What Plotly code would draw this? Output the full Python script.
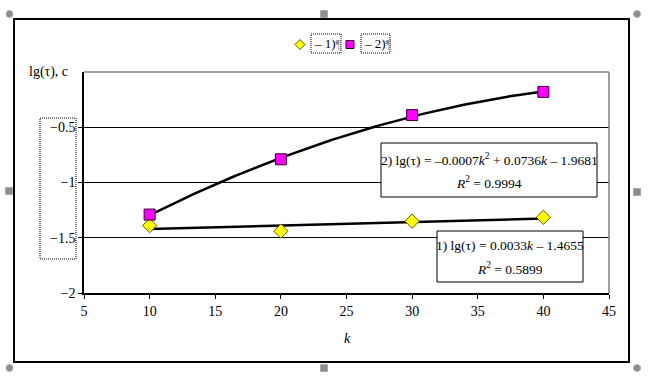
import numpy as np
import plotly.graph_objects as go

# ---- data ----
k_values = [10, 20, 30, 40]
series1 = [-1.39, -1.44, -1.35, -1.315]
series2 = [-1.29, -0.79, -0.39, -0.18]
x_ticks = [5, 10, 15, 20, 25, 30, 35, 40, 45]
y_ticks = [-2, -1.5, -1, -0.5]
y_tick_text = ["\u22122", "\u22121.5", "\u22121", "\u22120.5"]
legend_names = ["\u2013 1)", "\u2013 2)"]
eq1 = ["1) lg(\u03c4) = 0.0033<i>k</i> \u2013 1.4655", "<i>R</i><sup>2</sup> = 0.5899"]
eq2 = ["2) lg(\u03c4) = \u20130.0007<i>k</i><sup>2</sup> + 0.0736<i>k</i> \u2013 1.9681", "<i>R</i><sup>2</sup> = 0.9994"]

W, H = 648, 381
L, R, T, B = 84, 609, 72, 293
def px(x):
    return (x - L) / (R - L)
def py(y):
    return (B - y) / (B - T)

FONT = "Liberation Serif"
DOT = "1px,1px"

fig = go.Figure()

# trend lines (fitted from the data)
kk = np.linspace(min(k_values), max(k_values), 100)
c1 = np.polyfit(k_values, series1, 1)
c2 = np.polyfit(k_values, series2, 2)
fig.add_trace(go.Scatter(x=kk, y=np.polyval(c1, kk), mode="lines",
                         line=dict(color="black", width=2.5), showlegend=False, hoverinfo="skip"))
fig.add_trace(go.Scatter(x=kk, y=np.polyval(c2, kk), mode="lines",
                         line=dict(color="black", width=2.5), showlegend=False, hoverinfo="skip"))

fig.add_trace(go.Scatter(x=k_values, y=series1, mode="markers", name=legend_names[0],
                         marker=dict(symbol="diamond", size=11, color="#FFFF00",
                                     line=dict(color="#5a5a00", width=1)), showlegend=False))
fig.add_trace(go.Scatter(x=k_values, y=series2, mode="markers", name=legend_names[1],
                         marker=dict(symbol="square", size=11, color="#FF00FF",
                                     line=dict(color="#300030", width=1)), showlegend=False))

shapes = []
# outer chart border
shapes.append(dict(type="rect", xref="paper", yref="paper", x0=px(14), x1=px(629), y0=py(362), y1=py(19),
                   line=dict(color="black", width=2), layer="below"))
# plot area top and right (gray)
shapes.append(dict(type="line", xref="paper", yref="paper", x0=0, x1=1, y0=1, y1=1,
                   line=dict(color="#808080", width=1.5)))
shapes.append(dict(type="line", xref="paper", yref="paper", x0=1, x1=1, y0=0, y1=1,
                   line=dict(color="#808080", width=1.5)))
# equation boxes
for (x0, y0, x1, y1) in [(381, 143, 597, 197), (437, 231, 583, 282)]:
    shapes.append(dict(type="rect", xref="paper", yref="paper", x0=px(x0), x1=px(x1), y0=py(y1), y1=py(y0),
                       fillcolor="white", line=dict(color="black", width=1)))
# dotted box around y tick labels
shapes.append(dict(type="rect", xref="paper", yref="paper", x0=px(40), x1=px(76), y0=py(259), y1=py(118),
                   line=dict(color="black", width=1, dash=DOT)))
# legend symbols
cx, cy, r = 300, 44.5, 5
shapes.append(dict(type="path", xref="paper", yref="paper",
                   path=f"M {px(cx)} {py(cy-r)} L {px(cx+r)} {py(cy)} L {px(cx)} {py(cy+r)} L {px(cx-r)} {py(cy)} Z",
                   fillcolor="#FFFF00", line=dict(color="#5a5a00", width=1)))
shapes.append(dict(type="rect", xref="paper", yref="paper", x0=px(346), x1=px(354), y0=py(48.5), y1=py(40.5),
                   fillcolor="#FF00FF", line=dict(color="#300030", width=1)))
# legend dotted boxes
for x0, x1 in [(311, 341), (361, 390)]:
    shapes.append(dict(type="rect", xref="paper", yref="paper", x0=px(x0), x1=px(x1), y0=py(53), y1=py(34),
                       line=dict(color="black", width=1, dash=DOT)))
# selection handles
for (hx, hy) in [(9.5, 14), (637, 14), (9.5, 368), (637, 368)]:
    shapes.append(dict(type="circle", xref="paper", yref="paper", x0=px(hx-3.5), x1=px(hx+3.5),
                       y0=py(hy+3.5), y1=py(hy-3.5), fillcolor="#8c8c8c", line=dict(color="#b0b0b0", width=1)))
for (hx, hy) in [(324, 14), (9, 191), (637, 192), (324, 368)]:
    shapes.append(dict(type="rect", xref="paper", yref="paper", x0=px(hx-3.5), x1=px(hx+3.5),
                       y0=py(hy+3.5), y1=py(hy-3.5), fillcolor="#8c8c8c", line=dict(color="#a8a8a8", width=1)))

annotations = []
# legend text
for name, xc in zip(legend_names, [312, 362]):
    annotations.append(dict(xref="paper", yref="paper", x=px(xc), y=py(43.5), xanchor="left", yanchor="middle",
                            text=name + "<span style='color:#8a8a8a'>\u00b6</span>", showarrow=False,
                            font=dict(family=FONT, size=13, color="black")))
# y axis title
annotations.append(dict(xref="paper", yref="paper", x=px(27), y=py(72), xanchor="left", yanchor="middle",
                        text="lg(\u03c4), c", showarrow=False, bgcolor="white",
                        font=dict(family=FONT, size=14, color="black")))
# x axis title
annotations.append(dict(xref="paper", yref="paper", x=px(347), y=py(338), xanchor="center", yanchor="middle",
                        text="<i>k</i>", showarrow=False, font=dict(family=FONT, size=14, color="black")))
# equation texts
for line, (xc, yc) in zip(eq2, [(489, 159), (489, 182)]):
    annotations.append(dict(xref="paper", yref="paper", x=px(xc), y=py(yc), xanchor="center", yanchor="middle",
                            text=line, showarrow=False, font=dict(family=FONT, size=13.5, color="black")))
for line, (xc, yc) in zip(eq1, [(510, 245), (510, 268)]):
    annotations.append(dict(xref="paper", yref="paper", x=px(xc), y=py(yc), xanchor="center", yanchor="middle",
                            text=line, showarrow=False, font=dict(family=FONT, size=13.5, color="black")))

fig.update_layout(
    width=W, height=H,
    margin=dict(l=L, r=W - R, t=T, b=H - B, pad=0),
    paper_bgcolor="white", plot_bgcolor="white",
    showlegend=False,
    font=dict(family=FONT, size=14, color="black"),
    xaxis=dict(range=[5, 45], tickvals=x_ticks, showgrid=False, zeroline=False,
               showline=True, linecolor="black", linewidth=1.5,
               ticks="outside", ticklen=4, tickcolor="black", tickwidth=1,
               tickfont=dict(family=FONT, size=14, color="black")),
    yaxis=dict(range=[-2, 0], tickvals=y_ticks, ticktext=y_tick_text, showgrid=True, gridcolor="black",
               gridwidth=1, zeroline=False, showline=True, linecolor="black", linewidth=1.5,
               ticks="outside", ticklen=4, tickcolor="black", tickwidth=1,
               tickfont=dict(family=FONT, size=14, color="black")),
    shapes=shapes, annotations=annotations,
)

fig.write_html("out.html", config={"displayModeBar": False},
               post_script="document.body.style.margin='0';document.body.style.padding='0';")
